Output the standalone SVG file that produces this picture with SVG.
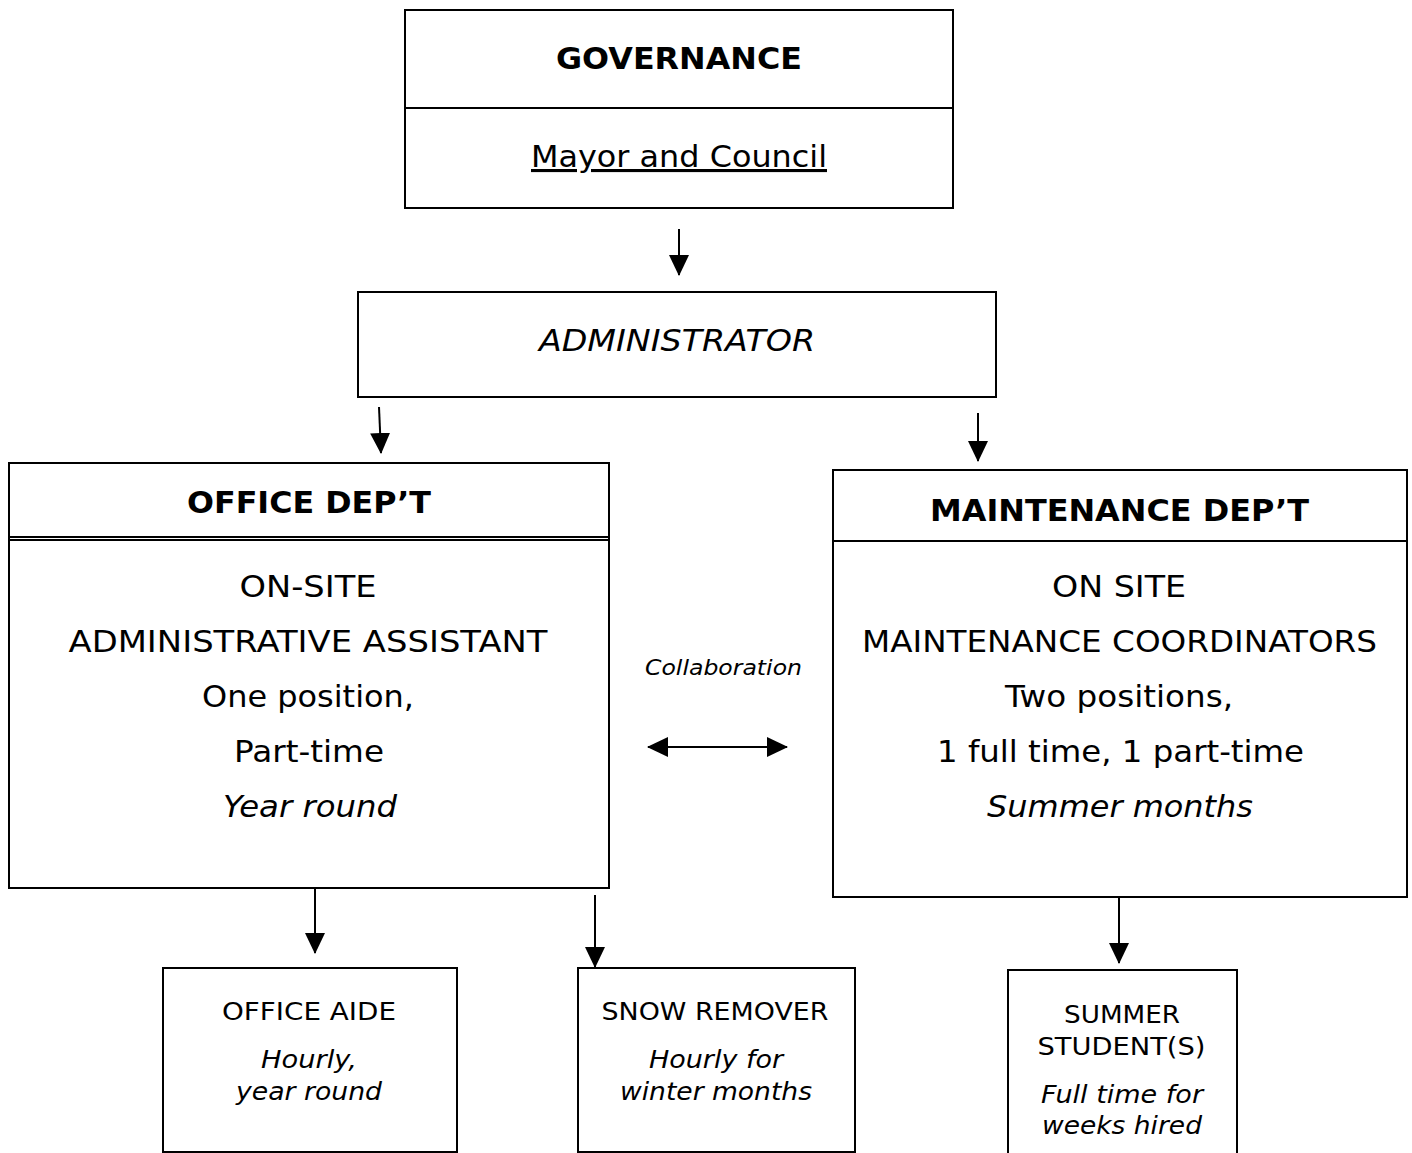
<svg xmlns="http://www.w3.org/2000/svg" width="1412" height="1153" viewBox="0 0 1412 1153">
<defs>
<style>
text{font-family:"DejaVu Sans",Verdana,sans-serif;fill:#000;text-anchor:middle}
.box{fill:#fff;stroke:#000;stroke-width:2}
.div{stroke:#000;stroke-width:2}
.t{font-size:31px;font-weight:bold}
.b{font-size:31px}
.s{font-size:24.5px}
.i{font-style:italic}
.con{stroke:#000;stroke-width:2;fill:none}
</style>
<marker id="ah" markerWidth="22" markerHeight="20" refX="20" refY="10" orient="auto" markerUnits="userSpaceOnUse">
<path d="M0,0 L21,10 L0,20 Z" fill="#000"/>
</marker>
<marker id="as" markerWidth="22" markerHeight="20" refX="1" refY="10" orient="auto" markerUnits="userSpaceOnUse">
<path d="M21,0 L0,10 L21,20 Z" fill="#000"/>
</marker>
</defs>
<rect width="1412" height="1153" fill="#fff"/>
<g id="connectors">
<line class="con" x1="679" y1="229" x2="679" y2="275" marker-end="url(#ah)"/>
<line class="con" x1="379" y1="407" x2="381" y2="453" marker-end="url(#ah)"/>
<line class="con" x1="978" y1="413" x2="978" y2="461" marker-end="url(#ah)"/>
<line class="con" x1="315" y1="889" x2="315" y2="953" marker-end="url(#ah)"/>
<line class="con" x1="595" y1="895" x2="595" y2="967" marker-end="url(#ah)"/>
<line class="con" x1="1119" y1="898" x2="1119" y2="963" marker-end="url(#ah)"/>
<line class="con" x1="648" y1="747" x2="787" y2="747" marker-start="url(#as)" marker-end="url(#ah)"/>
</g>
<g id="governance">
<rect class="box" x="405" y="10" width="548" height="198"/>
<line class="div" x1="405" y1="108" x2="953" y2="108"/>
<text class="t" x="679" y="69" textLength="246" lengthAdjust="spacingAndGlyphs">GOVERNANCE</text>
<text class="b" x="679" y="167" textLength="296" lengthAdjust="spacingAndGlyphs" text-decoration="underline">Mayor and Council</text>
</g>
<g id="administrator">
<rect class="box" x="358" y="292" width="638" height="105"/>
<text class="b i" x="677" y="351" textLength="276" lengthAdjust="spacingAndGlyphs">ADMINISTRATOR</text>
</g>
<g id="office">
<rect class="box" x="9" y="463" width="600" height="425"/>
<line class="div" x1="9" y1="537" x2="609" y2="537"/>
<line class="div" x1="9" y1="540" x2="609" y2="540"/>
<text class="t" x="309" y="513" textLength="244" lengthAdjust="spacingAndGlyphs">OFFICE DEP’T</text>
<text class="b" x="308" y="597" textLength="137" lengthAdjust="spacingAndGlyphs">ON-SITE</text>
<text class="b" x="308" y="652" textLength="479" lengthAdjust="spacingAndGlyphs">ADMINISTRATIVE ASSISTANT</text>
<text class="b" x="308" y="707" textLength="212" lengthAdjust="spacingAndGlyphs">One position,</text>
<text class="b" x="309" y="762" textLength="150" lengthAdjust="spacingAndGlyphs">Part-time</text>
<text class="b i" x="310" y="817" textLength="174" lengthAdjust="spacingAndGlyphs">Year round</text>
</g>
<g id="maintenance">
<rect class="box" x="833" y="470" width="574" height="427"/>
<line class="div" x1="833" y1="541" x2="1407" y2="541"/>
<text class="t" x="1119.5" y="521" textLength="379" lengthAdjust="spacingAndGlyphs">MAINTENANCE DEP’T</text>
<text class="b" x="1119" y="597" textLength="134" lengthAdjust="spacingAndGlyphs">ON SITE</text>
<text class="b" x="1119.5" y="652" textLength="515" lengthAdjust="spacingAndGlyphs">MAINTENANCE COORDINATORS</text>
<text class="b" x="1119" y="707" textLength="228" lengthAdjust="spacingAndGlyphs">Two positions,</text>
<text class="b" x="1120.5" y="762" textLength="367" lengthAdjust="spacingAndGlyphs">1 full time, 1 part-time</text>
<text class="b i" x="1120" y="817" textLength="266" lengthAdjust="spacingAndGlyphs">Summer months</text>
</g>
<g id="collaboration">
<text class="i" x="723.5" y="675" font-size="20.5" textLength="157" lengthAdjust="spacingAndGlyphs">Collaboration</text>
</g>
<g id="office-aide">
<rect class="box" x="163" y="968" width="294" height="184"/>
<text class="s" x="309" y="1020" textLength="174" lengthAdjust="spacingAndGlyphs">OFFICE AIDE</text>
<text class="s i" x="309" y="1068" textLength="96" lengthAdjust="spacingAndGlyphs">Hourly,</text>
<text class="s i" x="309" y="1100" textLength="146" lengthAdjust="spacingAndGlyphs">year round</text>
</g>
<g id="snow-remover">
<rect class="box" x="578" y="968" width="277" height="184"/>
<text class="s" x="715" y="1020" textLength="227" lengthAdjust="spacingAndGlyphs">SNOW REMOVER</text>
<text class="s i" x="716" y="1068" textLength="134" lengthAdjust="spacingAndGlyphs">Hourly for</text>
<text class="s i" x="716" y="1100" textLength="192" lengthAdjust="spacingAndGlyphs">winter months</text>
</g>
<g id="summer-student">
<rect class="box" x="1008" y="970" width="229" height="190"/>
<text class="s" x="1122" y="1023" textLength="116" lengthAdjust="spacingAndGlyphs">SUMMER</text>
<text class="s" x="1121.5" y="1055" textLength="168" lengthAdjust="spacingAndGlyphs">STUDENT(S)</text>
<text class="s i" x="1122" y="1103" textLength="162" lengthAdjust="spacingAndGlyphs">Full time for</text>
<text class="s i" x="1122" y="1134" textLength="160" lengthAdjust="spacingAndGlyphs">weeks hired</text>
</g>
</svg>
